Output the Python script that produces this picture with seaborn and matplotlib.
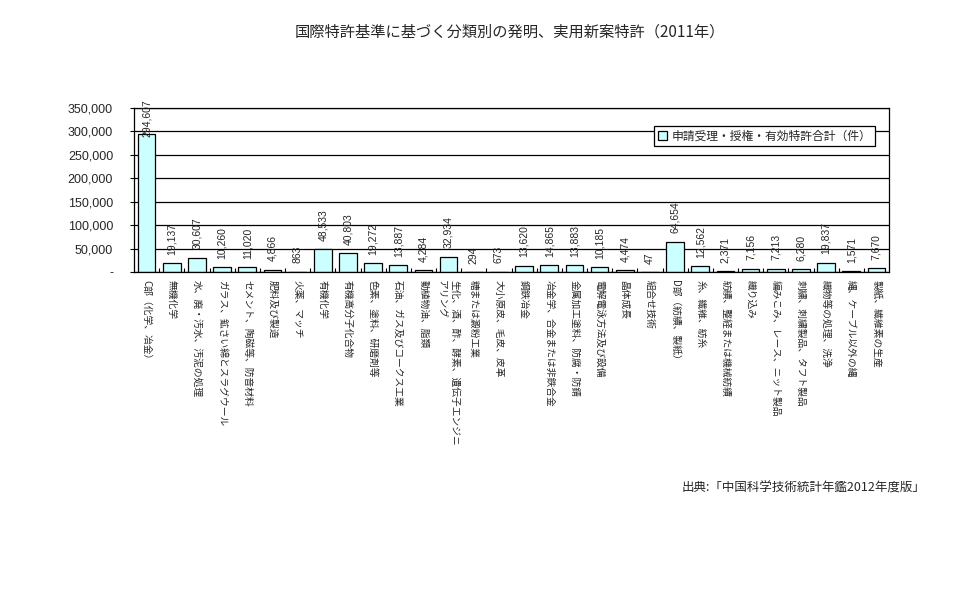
import matplotlib
matplotlib.use("Agg")
import matplotlib.pyplot as plt
import seaborn as sns
import pandas as pd
from matplotlib.ticker import FuncFormatter, MultipleLocator

categories = [
    "C部（化学、冶金）",
    "無機化学",
    "水、廃・汚水、汚泥の処理",
    "ガラス、鉱さい綿とスラグウール",
    "セメント、陶磁等、防音材料",
    "肥料及び製造",
    "火薬、マッチ",
    "有機化学",
    "有機高分子化合物",
    "色素、塗料、研磨剤等",
    "石油、ガス及びコークス工業",
    "動植物油、脂類",
    "生化、酒、酢、酵素、遺伝子エンジニ\nアリング",
    "糖または澱粉工業",
    "大小原皮、毛皮、皮革",
    "鋼鉄冶金",
    "冶金学、合金または非鉄合金",
    "金属加工塗料、防腐・防錆",
    "電解電泳方法及び設備",
    "晶体成長",
    "組合せ技術",
    "D部（紡績、製紙）",
    "糸、繊維、紡糸",
    "紡績、整経または機械紡績",
    "織り込み",
    "編みこみ、レース、ニット製品",
    "刺繍、刺繍製品、タフト製品",
    "織物等の処理、洗浄",
    "縄、ケーブル以外の縄",
    "製紙、繊維素の生産",
]
values = [
    294607, 19137, 30607, 10260, 11020, 4866, 863, 48533, 40803, 19272,
    13887, 4284, 32934, 294, 673, 13620, 14865, 13883, 10185, 4474,
    47, 64654, 12562, 2371, 7156, 7213, 6280, 19837, 1571, 7670,
]
series_name = "申請受理・授権・有効特許合計（件）"
title = "国際特許基準に基づく分類別の発明、実用新案特許（2011年）"
source = "出典:「中国科学技術統計年鑑2012年度版」"

sns.set_theme(style="white")
FONT = ["Noto Sans CJK JP", "DejaVu Sans"]
plt.rcParams["font.family"] = FONT

df = pd.DataFrame({"cat": categories, "val": values, "s": series_name})

fig = plt.figure(figsize=(9.6, 6.0), dpi=100)
ax = fig.add_axes([134 / 960, 1 - 272 / 600, (889 - 134) / 960, (272 - 108) / 600])

sns.barplot(data=df, x="cat", y="val", hue="s", ax=ax,
            palette=["#CCFFFF"], edgecolor="black", linewidth=0.9,
            width=0.7, saturation=1, legend=True)

YMAX = 350000
ax.set_ylim(0, YMAX)
ax.set_xlim(-0.5, len(categories) - 0.5)
ax.yaxis.set_major_locator(MultipleLocator(50000))
ax.yaxis.set_major_formatter(FuncFormatter(lambda v, p: "-" if v == 0 else f"{int(v):,}"))
ax.grid(axis="y", color="black", linewidth=0.9)
ax.set_axisbelow(True)
for sp in ax.spines.values():
    sp.set_color("black")
    sp.set_linewidth(0.9)
ax.set_xlabel("")
ax.set_ylabel("")

ax.tick_params(axis="y", which="major", length=3, width=0.8, color="black",
               left=True, pad=12)
for lab in ax.get_yticklabels():
    lab.set_fontfamily(["Liberation Sans", "DejaVu Sans"])
    lab.set_fontsize(9)
ax.tick_params(axis="x", length=0, pad=6)
ax.set_xticks(range(len(categories)))
ax.set_xticklabels(categories, rotation=270, fontsize=7, va="top", ha="center",
                   rotation_mode="default", multialignment="left")
# category boundary ticks
ax.set_xticks([i + 0.5 for i in range(len(categories) - 1)], minor=True)
ax.tick_params(axis="x", which="minor", length=3, width=0.8, direction="in",
               color="black", bottom=True)

for i, v in enumerate(values):
    if v > 0.8 * YMAX:
        # label clamped near the top of the plot area
        ax.annotate(f"{v:,}", xy=(i, YMAX), xytext=(0, 6), textcoords="offset points",
                    rotation=90, ha="center", va="top", fontsize=7.5,
                    family=["Liberation Sans", "DejaVu Sans"], annotation_clip=False)
    else:
        ax.annotate(f"{v:,}", xy=(i, v), xytext=(0, 6), textcoords="offset points",
                    rotation=90, ha="center", va="bottom", fontsize=7.5,
                    family=["Liberation Sans", "DejaVu Sans"])

leg = ax.legend(loc="upper right", bbox_to_anchor=(875 / 960, 1 - 126 / 600),
                bbox_transform=fig.transFigure, frameon=True, fancybox=False,
                fontsize=8.5, handlelength=0.8, handleheight=0.8,
                handletextpad=0.4, borderpad=0.3, borderaxespad=0)
leg.get_frame().set_edgecolor("black")
leg.get_frame().set_linewidth(0.9)
leg.get_frame().set_facecolor("white")
leg.get_frame().set_alpha(1)

fig.text(510 / 960, 1 - 32 / 600, title, ha="center", va="center", fontsize=11)
fig.text(925 / 960, 1 - 488 / 600, source, ha="right", va="center", fontsize=9)

fig.savefig("out.png", dpi=100, facecolor="white")
